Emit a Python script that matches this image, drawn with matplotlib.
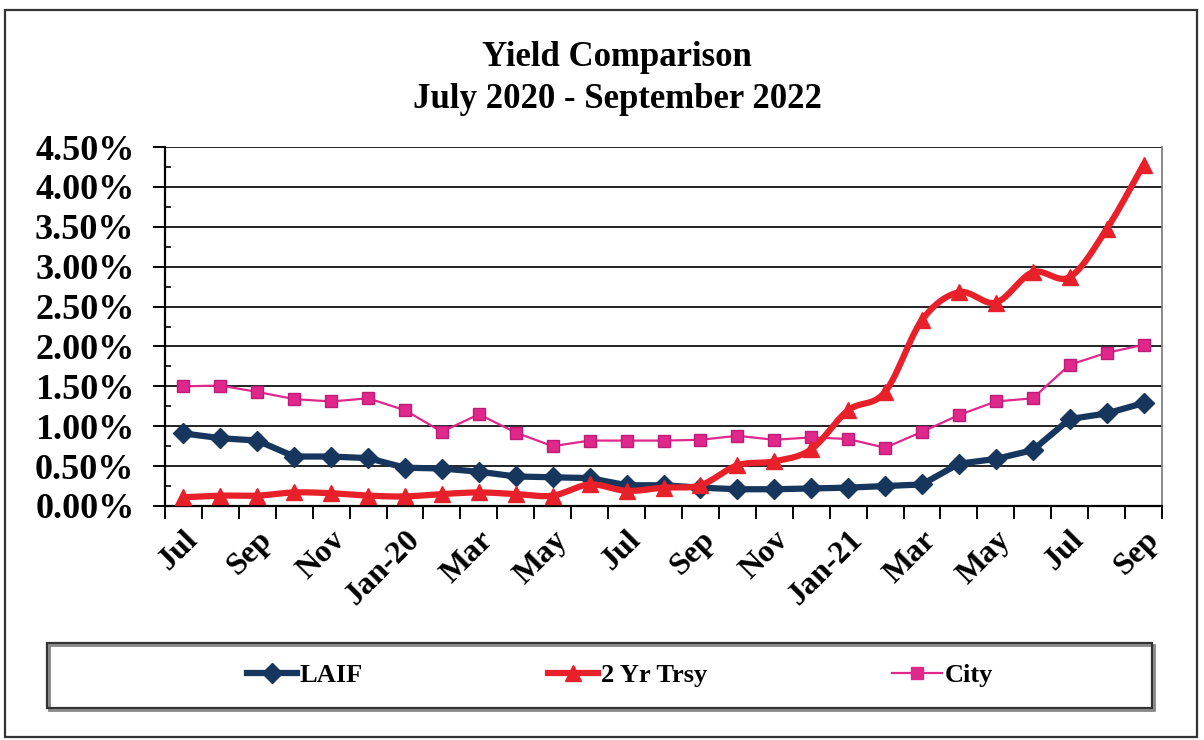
import numpy as np
import matplotlib
matplotlib.use("Agg")
import matplotlib.pyplot as plt
from matplotlib.ticker import FuncFormatter, FixedLocator, MultipleLocator
from matplotlib.lines import Line2D
from matplotlib.patches import Rectangle

# ---------------- data ----------------
months = ["Jul", "Aug", "Sep", "Oct", "Nov", "Dec", "Jan-20", "Feb", "Mar",
          "Apr", "May", "Jun", "Jul", "Aug", "Sep", "Oct", "Nov", "Dec",
          "Jan-21", "Feb", "Mar", "Apr", "May", "Jun", "Jul", "Aug", "Sep"]
laif = [0.91, 0.85, 0.82, 0.62, 0.62, 0.60, 0.48, 0.47, 0.43, 0.37, 0.36,
        0.35, 0.26, 0.26, 0.23, 0.21, 0.21, 0.22, 0.23, 0.25, 0.27, 0.53,
        0.59, 0.70, 1.09, 1.16, 1.29]
trsy = [0.11, 0.13, 0.13, 0.17, 0.16, 0.13, 0.12, 0.15, 0.17, 0.15, 0.13,
        0.27, 0.19, 0.23, 0.26, 0.51, 0.56, 0.71, 1.20, 1.43, 2.33, 2.68,
        2.55, 2.93, 2.87, 3.47, 4.28]
city = [1.50, 1.51, 1.43, 1.34, 1.31, 1.35, 1.20, 0.93, 1.15, 0.92, 0.75,
        0.82, 0.82, 0.82, 0.83, 0.88, 0.83, 0.86, 0.84, 0.73, 0.93, 1.14,
        1.31, 1.35, 1.77, 1.92, 2.02]
series_names = ["LAIF", "2 Yr Trsy", "City"]
yticks = [0.0, 0.5, 1.0, 1.5, 2.0, 2.5, 3.0, 3.5, 4.0, 4.5]
title_lines = ["Yield Comparison", "July 2020 - September 2022"]

# ---------------- style ----------------
SERIF = ["Liberation Serif", "DejaVu Serif"]
plt.rcParams["font.family"] = SERIF
plt.rcParams["font.weight"] = "bold"

C_LAIF = "#17365d"
C_TRSY = "#e8202a"
C_CITY = "#e0288c"


def catmull_rom(x, y, n=24):
    pts = np.column_stack([x, y]).astype(float)
    pts = np.vstack([pts[0], pts, pts[-1]])
    out = []
    t = np.linspace(0, 1, n)[:, None]
    for i in range(1, len(pts) - 2):
        p0, p1, p2, p3 = pts[i - 1], pts[i], pts[i + 1], pts[i + 2]
        seg = 0.5 * ((2 * p1) + (-p0 + p2) * t
                     + (2 * p0 - 5 * p1 + 4 * p2 - p3) * t ** 2
                     + (-p0 + 3 * p1 - 3 * p2 + p3) * t ** 3)
        out.append(seg if i == 1 else seg[1:])
    out = np.vstack(out)
    return out[:, 0], out[:, 1]


W, H = 1204, 740
fig = plt.figure(figsize=(W / 100, H / 100), dpi=100)

# outer frame
fig.patches.append(Rectangle((5 / W, 3 / H), 1192 / W, 727 / H,
                             transform=fig.transFigure, fill=False,
                             edgecolor="#333333", linewidth=1.6))

ax = fig.add_axes([165 / W, 1 - 506 / H, 997 / W, 359 / H])
x = np.arange(len(months))

# gridlines
for v in yticks:
    ax.axhline(v, color="#222222", linewidth=1.4, zorder=1)

# series
ax.plot(x, city, color=C_CITY, linewidth=1.6, marker="s", markersize=9,
        markerfacecolor=C_CITY, markeredgecolor="#c01a78", zorder=3)
ax.plot(x, laif, color=C_LAIF, linewidth=4.5, marker="D", markersize=10,
        markerfacecolor=C_LAIF, markeredgecolor=C_LAIF, zorder=4)
sx, sy = catmull_rom(x, trsy)
ax.plot(sx, sy, color=C_TRSY, linewidth=4.5, solid_capstyle="round", zorder=5)
ax.plot(x, trsy, linestyle="none", marker="^", markersize=12,
        markerfacecolor=C_TRSY, markeredgecolor=C_TRSY, zorder=6)

ax.set_xlim(-0.5, len(months) - 0.5)
ax.set_ylim(0, 4.5)

# y axis
ax.yaxis.set_major_locator(FixedLocator(yticks))
ax.yaxis.set_minor_locator(MultipleLocator(0.25))
ax.yaxis.set_major_formatter(FuncFormatter(lambda v, p: f"{v:.2f}%"))
ax.tick_params(axis="y", which="major", length=9, width=1.4, direction="out",
               labelsize=26, pad=13, colors="black")
ax.tick_params(axis="y", which="minor", length=4, width=1.2, direction="in")

# x axis: labels on every other month, ticks on category boundaries
lab_pos = x[::2]
ax.set_xticks(lab_pos)
ax.set_xticklabels([months[i] for i in lab_pos], rotation=45, ha="right",
                   rotation_mode="anchor", fontsize=23, fontweight="bold")
ax.xaxis.set_minor_locator(FixedLocator(np.arange(-0.5, len(months), 1.0)))
ax.tick_params(axis="x", which="major", length=0, pad=14)
ax.tick_params(axis="x", which="minor", length=9, width=1.4, direction="out")
for lbl in ax.get_yticklabels():
    lbl.set_fontweight("bold")

for s in ["left", "bottom"]:
    ax.spines[s].set_color("black")
    ax.spines[s].set_linewidth(1.6)
ax.spines["right"].set_color("#777777")
ax.spines["right"].set_linewidth(1.2)
ax.spines["top"].set_visible(False)

# title
fig.text(617 / W, 1 - 57 / H, title_lines[0], ha="center", va="center",
         fontsize=25, fontweight="bold")
fig.text(617 / W, 1 - 100 / H, title_lines[1], ha="center", va="center",
         fontsize=25, fontweight="bold")

# legend box
fig.patches.append(Rectangle((49 / W, 1 - 710 / H), 1105 / W, 65 / H,
                             transform=fig.transFigure, fill=False,
                             edgecolor="#888888", linewidth=2.0))
fig.patches.append(Rectangle((47 / W, 1 - 708 / H), 1105 / W, 65 / H,
                             transform=fig.transFigure, fill=False,
                             edgecolor="#333333", linewidth=1.6))
handles = [
    Line2D([], [], color=C_LAIF, linewidth=4.5, marker="D", markersize=10),
    Line2D([], [], color=C_TRSY, linewidth=4.5, marker="^", markersize=12),
    Line2D([], [], color=C_CITY, linewidth=1.6, marker="s", markersize=9),
]
fig.legend(handles, series_names, loc="center", ncol=3,
           bbox_to_anchor=(620 / W, 1 - 675 / H), frameon=False,
           prop={"family": SERIF, "weight": "bold", "size": 19},
           handlelength=1.9, handletextpad=0.1, columnspacing=7.0)

fig.savefig("out.png", dpi=100)
